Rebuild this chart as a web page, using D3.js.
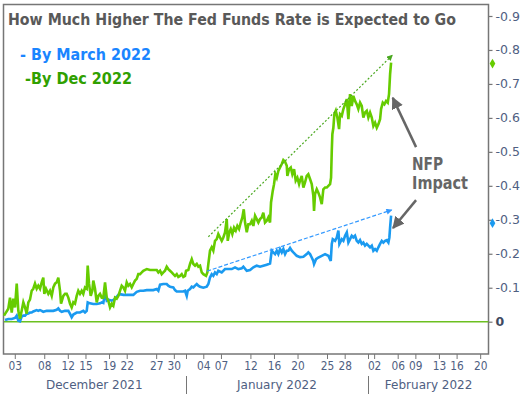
<!DOCTYPE html>
<html><head><meta charset="utf-8">
<script src="https://cdn.jsdelivr.net/npm/d3@7"></script>
<style>body{margin:0;background:#fff}svg{display:block}</style>
</head><body><svg id="c" width="523" height="394"></svg>
<script>
// ---------- data ----------
const startDate = "2021-12-01";
const endDate = "2022-02-21T12:00";
const dayTickDates = ["2021-12-03","2021-12-08","2021-12-12","2021-12-15","2021-12-19","2021-12-22","2021-12-27","2021-12-30",
  "2022-01-04","2022-01-07","2022-01-12","2022-01-16","2022-01-20","2022-01-25","2022-01-28",
  "2022-02-02","2022-02-06","2022-02-09","2022-02-13","2022-02-16","2022-02-20"];
const dayTickLabels = ["03","08","12","15","19","22","27","30","04","07","12","16","20","25","28","02","06","09","13","16","20"];
const monthStarts = ["2021-12-01","2022-01-01","2022-02-01","2022-02-21T12:00"];
const monthLabels = ["December 2021","January 2022","February 2022"];
const yTicks = [0,-0.1,-0.2,-0.3,-0.4,-0.5,-0.6,-0.7,-0.8,-0.9];
const seriesNames = ["- By March 2022","-By Dec 2022"];
// [days since Dec 1 2021, value]
const marchSeries = [[0.34,-0.005],[0.9,-0.008],[1.48,-0.008],[2.04,-0.011],[2.33,-0.018],[2.6,-0.003],[2.89,-0.001],[3.17,-0.015],[3.45,-0.018],[3.74,-0.018],[4.02,-0.023],[4.3,-0.024],[4.58,-0.027],[4.87,-0.027],[5.14,-0.03],[5.72,-0.034],[5.99,-0.032],[6.28,-0.034],[6.57,-0.032],[6.84,-0.029],[7.42,-0.032],[7.98,-0.032],[8.54,-0.032],[9.12,-0.035],[9.39,-0.039],[9.68,-0.032],[9.97,-0.029],[10.53,-0.032],[11.09,-0.032],[11.38,-0.023],[11.66,-0.013],[11.94,-0.021],[12.51,-0.027],[13.07,-0.027],[13.63,-0.032],[13.92,-0.027],[14.21,-0.032],[14.38,-0.057],[14.77,-0.054],[15.33,-0.052],[15.91,-0.052],[16.47,-0.054],[16.76,-0.057],[17.03,-0.055],[17.32,-0.085],[17.61,-0.062],[17.88,-0.065],[18.46,-0.062],[18.73,-0.064],[19.02,-0.067],[19.58,-0.079],[19.86,-0.081],[20.43,-0.079],[21.56,-0.079],[22.12,-0.079],[22.7,-0.088],[23.26,-0.091],[23.82,-0.091],[24.4,-0.093],[25.52,-0.093],[26.1,-0.096],[26.37,-0.091],[26.66,-0.109],[27.22,-0.111],[27.79,-0.111],[28.06,-0.106],[28.35,-0.103],[28.91,-0.101],[29.2,-0.093],[29.49,-0.089],[30.05,-0.089],[30.61,-0.089],[30.9,-0.091],[31.19,-0.076],[31.36,-0.091],[31.75,-0.096],[32.04,-0.103],[32.31,-0.101],[32.6,-0.106],[32.89,-0.111],[33.16,-0.106],[33.45,-0.103],[34.01,-0.1],[34.58,-0.103],[34.86,-0.111],[35.14,-0.13],[35.43,-0.14],[35.7,-0.135],[35.99,-0.145],[36.28,-0.14],[36.55,-0.15],[37.13,-0.145],[37.69,-0.155],[38.83,-0.155],[39.39,-0.16],[39.95,-0.155],[40.53,-0.157],[40.8,-0.162],[41.38,-0.15],[41.94,-0.152],[42.5,-0.16],[43.07,-0.165],[43.63,-0.162],[44.19,-0.165],[44.77,-0.168],[45.33,-0.171],[45.62,-0.209],[45.89,-0.204],[46.18,-0.199],[46.47,-0.209],[46.74,-0.199],[47.03,-0.214],[47.32,-0.204],[47.59,-0.214],[47.88,-0.199],[48.17,-0.209],[48.44,-0.209],[48.73,-0.217],[49.02,-0.209],[49.29,-0.204],[49.86,-0.194],[50.42,-0.19],[50.99,-0.191],[51.56,-0.199],[51.83,-0.204],[52.12,-0.199],[52.41,-0.189],[52.68,-0.179],[52.8,-0.17],[53.14,-0.184],[53.53,-0.189],[54.11,-0.194],[54.67,-0.199],[55.23,-0.194],[55.64,-0.179],[55.81,-0.229],[55.98,-0.243],[56.37,-0.238],[56.66,-0.248],[56.93,-0.268],[57.1,-0.229],[57.51,-0.243],[57.78,-0.238],[58.07,-0.253],[58.36,-0.263],[58.63,-0.233],[58.91,-0.243],[59.2,-0.253],[59.47,-0.248],[59.76,-0.253],[60.05,-0.238],[60.32,-0.233],[60.61,-0.24],[60.9,-0.229],[61.17,-0.233],[61.46,-0.224],[61.75,-0.229],[62.31,-0.219],[62.6,-0.224],[62.87,-0.209],[63.16,-0.214],[63.45,-0.209],[63.72,-0.219],[64.01,-0.229],[64.3,-0.238],[64.57,-0.233],[64.86,-0.238],[65.14,-0.24],[65.42,-0.233],[65.59,-0.248],[65.71,-0.277],[65.88,-0.312]];
const decSeries = [[0.17,-0.018],[0.9,-0.038],[1.19,-0.071],[1.48,-0.027],[1.75,-0.068],[2.04,-0.042],[2.33,-0.112],[2.6,-0.032],[2.89,-0.009],[3.17,-0.032],[3.45,-0.057],[3.74,-0.042],[4.02,-0.024],[4.3,-0.057],[4.58,-0.065],[4.87,-0.091],[5.14,-0.097],[5.43,-0.112],[5.72,-0.097],[5.99,-0.106],[6.28,-0.097],[6.57,-0.116],[6.84,-0.13],[7.01,-0.082],[7.3,-0.097],[7.69,-0.082],[7.98,-0.091],[8.27,-0.076],[8.54,-0.101],[8.83,-0.112],[9.12,-0.116],[9.39,-0.13],[9.68,-0.091],[9.85,-0.053],[10.24,-0.076],[10.53,-0.082],[10.81,-0.082],[11.09,-0.071],[11.38,-0.053],[11.66,-0.042],[11.94,-0.057],[12.22,-0.053],[12.51,-0.076],[12.78,-0.091],[13.07,-0.082],[13.36,-0.091],[13.63,-0.082],[13.92,-0.101],[14.21,-0.097],[14.38,-0.165],[14.6,-0.112],[14.89,-0.076],[15.16,-0.091],[15.33,-0.121],[15.62,-0.097],[15.91,-0.057],[16.18,-0.076],[16.47,-0.082],[16.76,-0.071],[17.03,-0.071],[17.32,-0.116],[17.61,-0.071],[17.88,-0.062],[18.17,-0.042],[18.46,-0.053],[18.73,-0.047],[19.02,-0.071],[19.3,-0.068],[19.58,-0.076],[19.86,-0.091],[20.15,-0.106],[20.43,-0.101],[20.71,-0.091],[21,-0.116],[21.27,-0.106],[21.56,-0.111],[21.85,-0.101],[22.12,-0.111],[22.41,-0.121],[22.7,-0.126],[22.97,-0.14],[23.26,-0.14],[23.55,-0.145],[23.82,-0.15],[24.4,-0.155],[24.96,-0.152],[25.52,-0.152],[26.1,-0.152],[26.37,-0.145],[26.66,-0.15],[26.94,-0.14],[27.22,-0.145],[27.5,-0.15],[27.79,-0.162],[28.06,-0.155],[28.35,-0.15],[28.64,-0.145],[28.91,-0.14],[29.2,-0.135],[29.49,-0.14],[29.76,-0.132],[30.05,-0.135],[30.34,-0.14],[30.61,-0.132],[30.9,-0.135],[31.07,-0.15],[31.46,-0.152],[31.75,-0.17],[32.04,-0.184],[32.31,-0.17],[32.6,-0.165],[32.89,-0.17],[33.16,-0.162],[33.45,-0.165],[33.74,-0.145],[34.01,-0.14],[34.47,-0.135],[34.69,-0.145],[34.86,-0.17],[35.14,-0.209],[35.43,-0.219],[35.7,-0.209],[35.99,-0.238],[36.28,-0.243],[36.55,-0.258],[36.84,-0.248],[37.13,-0.238],[37.4,-0.248],[37.69,-0.263],[37.98,-0.302],[38.15,-0.238],[38.42,-0.263],[38.66,-0.273],[38.93,-0.258],[39.22,-0.277],[39.51,-0.268],[39.78,-0.282],[40.07,-0.273],[40.36,-0.292],[40.63,-0.307],[40.87,-0.331],[41.09,-0.292],[41.38,-0.263],[41.65,-0.287],[41.94,-0.287],[42.23,-0.297],[42.5,-0.282],[42.79,-0.312],[43.07,-0.302],[43.35,-0.292],[43.63,-0.302],[43.92,-0.307],[44.19,-0.321],[44.48,-0.292],[44.77,-0.297],[45.04,-0.307],[45.33,-0.292],[45.5,-0.351],[45.79,-0.385],[46.01,-0.405],[46.23,-0.434],[46.47,-0.424],[46.74,-0.444],[47.03,-0.454],[47.32,-0.464],[47.59,-0.476],[47.88,-0.471],[48.17,-0.459],[48.27,-0.429],[48.56,-0.449],[48.85,-0.454],[49.12,-0.434],[49.41,-0.449],[49.69,-0.415],[49.97,-0.424],[50.26,-0.405],[50.42,-0.415],[50.71,-0.429],[50.99,-0.395],[51.27,-0.41],[51.56,-0.429],[51.83,-0.434],[52.12,-0.42],[52.41,-0.405],[52.68,-0.371],[52.8,-0.326],[52.97,-0.376],[53.26,-0.39],[53.53,-0.38],[53.82,-0.366],[54.11,-0.346],[54.38,-0.39],[54.67,-0.395],[54.96,-0.395],[55.23,-0.4],[55.52,-0.405],[55.69,-0.424],[55.81,-0.503],[55.91,-0.552],[56.08,-0.571],[56.25,-0.611],[56.49,-0.621],[56.76,-0.601],[57.05,-0.567],[57.22,-0.611],[57.51,-0.606],[57.78,-0.626],[58.07,-0.64],[58.36,-0.655],[58.63,-0.596],[58.91,-0.67],[59.2,-0.635],[59.47,-0.665],[59.76,-0.65],[60.05,-0.64],[60.32,-0.626],[60.61,-0.645],[60.9,-0.635],[61.17,-0.601],[61.46,-0.616],[61.75,-0.621],[62.02,-0.601],[62.31,-0.616],[62.6,-0.601],[62.87,-0.576],[63.16,-0.586],[63.45,-0.571],[63.72,-0.581],[64.01,-0.596],[64.18,-0.626],[64.47,-0.645],[64.74,-0.64],[65.03,-0.65],[65.31,-0.645],[65.53,-0.67],[65.71,-0.729],[65.88,-0.763]];
const marchTrend = [[34.64,-0.149],[66.0,-0.329]];
const decTrend = [[34.86,-0.250],[66.1,-0.785]];
const lastValues = [-0.29,-0.76]; // March, Dec
const annotationText = ["NFP","Impact"];
const nfpArrows = [[[70.12,-0.514],[66.16,-0.659]],[[70.12,-0.358],[66.21,-0.276]]];

// ---------- drawing ----------
const svg = d3.select("#c");
const L = 3.5, R = 488.5, T = 4.5, B = 354;
const parse = s => new Date(s.length > 10 ? s : s + "T00:00");
const t0 = parse(startDate);
const dayToDate = d => new Date(+t0 + d * 864e5);
const x = d3.scaleTime().domain([parse(startDate), parse(endDate)]).range([3, 489]);
const y = d3.scaleLinear().domain([0, -0.9]).range([321.7, 16]);
const colBlue = "#1a9af0", colGreen = "#66cc00";
const labelCol = "#4f6082";

const defs = svg.append("defs");
function marker(id, color, w, h) {
  defs.append("marker").attr("id", id).attr("viewBox", "0 0 10 10").attr("refX", 9).attr("refY", 5)
    .attr("markerWidth", w).attr("markerHeight", h).attr("markerUnits", "userSpaceOnUse").attr("orient", "auto")
    .append("path").attr("d", "M0,0L10,5L0,10z").attr("fill", color);
}
marker("mGrey", "#666", 12, 12);
marker("mGreen", "#4aa820", 7, 6);
marker("mBlue", "#3399ff", 7, 6);

// frame
svg.append("rect").attr("x", L).attr("y", T).attr("width", R - L).attr("height", B - T)
  .attr("fill", "none").attr("stroke", "#767676").attr("stroke-width", 1.5);

// zero line
svg.append("line").attr("x1", 4).attr("x2", R).attr("y1", y(0)).attr("y2", y(0))
  .attr("stroke", "#6cc020").attr("stroke-width", 1.5);

// series
const line = d3.line().x(d => x(dayToDate(d[0]))).y(d => y(d[1]));
svg.append("path").datum(marchSeries).attr("d", line).attr("fill", "none").attr("stroke", colBlue).attr("stroke-width", 2.6).attr("stroke-linejoin", "miter");
svg.append("path").datum(decSeries).attr("d", line).attr("fill", "none").attr("stroke", colGreen).attr("stroke-width", 2.6).attr("stroke-linejoin", "miter");

// trend lines
svg.append("path").datum(decTrend).attr("d", line).attr("fill", "none").attr("stroke", "#4aa820")
  .attr("stroke-width", 1.2).attr("stroke-dasharray", "2,2").attr("marker-end", "url(#mGreen)");
svg.append("path").datum(marchTrend).attr("d", line).attr("fill", "none").attr("stroke", "#3399ff")
  .attr("stroke-width", 1.2).attr("stroke-dasharray", "4,2").attr("marker-end", "url(#mBlue)");

// NFP arrows
nfpArrows.forEach(a => {
  svg.append("path").datum(a).attr("d", line).attr("fill", "none").attr("stroke", "#666")
    .attr("stroke-width", 2.5).attr("marker-end", "url(#mGrey)");
});

// right axis
const ya = svg.append("g").attr("transform", `translate(${R},0)`)
  .call(d3.axisRight(y).tickValues(yTicks).tickSize(4).tickPadding(3)
    .tickFormat(d => d === 0 ? "0" : d.toFixed(1)));
ya.select(".domain").remove();
ya.selectAll("line").attr("stroke", "#767676").attr("stroke-width", 1.2);
ya.selectAll("text").attr("fill", labelCol).style("font-family", "DejaVu Sans").style("font-size", "12.5px")
  .filter(d => d === 0).style("font-weight", "bold").attr("fill", "#3f4a60");

// last-value diamonds
svg.selectAll(".lv").data(lastValues).join("path")
  .attr("transform", d => `translate(${R + 4},${y(d)})`)
  .attr("d", d3.symbol(d3.symbolDiamond).size(28))
  .attr("fill", (d, i) => i === 0 ? colBlue : colGreen);

// bottom axis
const xa = svg.append("g").attr("transform", `translate(0,${B})`)
  .call(d3.axisBottom(x).tickValues(dayTickDates.map(parse)).tickSize(5).tickSizeOuter(0).tickPadding(3)
    .tickFormat((d, i) => dayTickLabels[i]));
xa.select(".domain").remove();
xa.selectAll("line").attr("stroke", "#767676");
xa.selectAll("text").attr("fill", labelCol).style("font-family", "DejaVu Sans").style("font-size", "11.5px")
  .attr("textLength", 13.5).attr("lengthAdjust", "spacingAndGlyphs");

// month separators + labels
const mDates = monthStarts.map(parse);
[mDates[1], mDates[2]].forEach(d => {
  const px = Math.round(x(d)) + 0.5;
  svg.append("line").attr("x1", px).attr("x2", px).attr("y1", B).attr("y2", B + 5).attr("stroke", "#767676");
  svg.append("line").attr("x1", px).attr("x2", px).attr("y1", 376).attr("y2", 394).attr("stroke", "#767676");
});
monthLabels.forEach((m, i) => {
  svg.append("text").attr("x", (x(mDates[i]) + x(mDates[i + 1])) / 2).attr("y", 389)
    .attr("text-anchor", "middle").attr("fill", labelCol)
    .style("font-family", "DejaVu Sans").style("font-size", "12px").text(m);
});

// title
svg.append("text").attr("x", 8).attr("y", 25).attr("fill", "#595959")
  .style("font-family", "DejaVu Sans").style("font-weight", "bold").style("font-size", "15px")
  .attr("textLength", 448).attr("lengthAdjust", "spacingAndGlyphs")
  .text("How Much Higher The Fed Funds Rate is Expected to Go");

// legend
const legCols = ["#1a85ff", "#30a000"];
const legPos = [[20, 60, 131], [25, 84, 107]];
seriesNames.forEach((s, i) => {
  svg.append("text").attr("x", legPos[i][0]).attr("y", legPos[i][1]).attr("fill", legCols[i])
    .style("font-family", "DejaVu Sans").style("font-weight", "bold").style("font-size", "15px")
    .attr("textLength", legPos[i][2]).attr("lengthAdjust", "spacingAndGlyphs").text(s);
});

// annotation
const annW = [31, 56];
annotationText.forEach((s, i) => {
  svg.append("text").attr("x", 412).attr("y", 170 + i * 18.5).attr("fill", "#666")
    .style("font-family", "DejaVu Sans").style("font-weight", "bold").style("font-size", "17.5px")
    .attr("textLength", annW[i]).attr("lengthAdjust", "spacingAndGlyphs").text(s);
});
</script></body></html>
